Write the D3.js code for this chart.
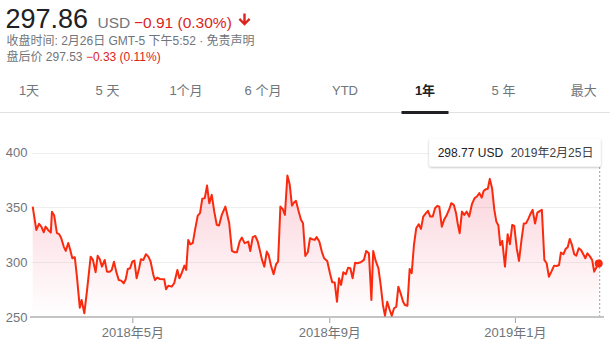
<!DOCTYPE html>
<html>
<head>
<meta charset="utf-8">
<script src="https://cdn.jsdelivr.net/npm/d3@7"></script>
<style>
  html, body { margin: 0; padding: 0; background: #fff; }
  svg { display: block; font-family: "Liberation Sans", Arial, "Noto Sans CJK SC", sans-serif; }
</style>
</head>
<body>
<svg id="chart" width="610" height="350"></svg>
<script>
// ---------- data ----------
const headerPrice = "297.86";
const headerCurrency = "USD";
const headerChange = "\u22120.91 (0.30%)";
const closeInfo = "收盘时间: 2月26日 GMT-5 下午5:52 · 免责声明";
const afterLabel = "盘后价 297.53 ";
const afterChange = "\u22120.33 (0.11%)";
const tabLabels = ["1天", "5 天", "1个月", "6 个月", "YTD", "1年", "5 年", "最大"];
const activeTab = "1年";

// trading-session index (0 = 2018-02-26) and closing price
const sessions = [
0,1.6,2.8,3.8,4.9,5.7,6.8,8.0,8.5,9.5,
10.7,11.7,12.6,13.7,14.6,15.7,16.6,17.5,18.6,19.6,
20.8,21.6,22.8,24.1,25.6,26.6,27.8,28.7,29.6,30.6,
31.8,32.8,34.0,34.9,35.9,36.9,38.0,39.1,40.2,41.1,
42.0,43.0,44.0,44.9,45.9,47.0,47.8,48.9,50.0,51.1,
52.1,53.3,54.0,55.0,56.2,58.1,58.9,59.9,61.4,62.5,
63.9,64.8,65.8,67.0,67.8,68.7,69.6,70.7,71.7,72.9,
73.9,74.9,76.0,77.0,78.0,79.1,80.2,81.3,82.3,83.5,
85.1,86.8,88.0,89.2,90.2,91.4,92.4,93.6,94.3,95.2,
96.1,97.2,98.3,99.4,100.3,101.3,102.3,103.4,104.2,105.3,
106.4,107.5,108.4,109.4,110.4,111.4,112.5,113.5,114.5,115.4,
116.3,117.5,118.5,119.4,120.4,121.5,122.5,123.5,124.6,125.4,
126.6,127.7,128.7,130.1,131.3,132.3,133.4,134.4,135.3,136.2,
137.2,138.3,139.3,140.3,141.3,142.4,143.4,144.9,146.3,147.3,
148.5,149.6,150.4,151.5,152.7,153.7,154.7,155.6,156.6,157.7,
158.6,159.6,160.6,161.5,162.5,163.6,164.4,165.5,166.5,167.4,
168.4,169.4,170.5,171.5,172.5,173.7,174.6,175.6,176.7,177.7,
178.7,179.6,180.7,181.7,182.9,184.0,184.9,186.0,187.0,187.7,
188.6,189.6,190.6,191.7,192.8,194.0,195.2,196.2,197.3,198.3,
199.2,200.2,201.0,201.9,202.9,203.9,204.8,205.7,206.5,207.4,
208.6,209.8,210.8,211.8,212.7,213.8,214.8,216.0,216.9,217.9,
218.9,220.0,220.8,221.9,222.9,224.1,224.9,226.0,227.0,228.0,
229.1,230.3,231.4,232.5,233.3,234.4,235.4,236.3,237.2,238.2,
239.2,240.1,241.2,242.2,243.2,244.1,245.0,246.2,247.1,248.0,
248.9,250];
const prices = [
350.8,329.5,335,332.5,327.4,332.5,329.5,327,346.2,342.6,
326.5,325.6,322,314.3,310.3,317.6,311.2,303.6,304.6,285.4,
258.5,265.5,253.4,276.2,305.1,302.1,290.9,306,303,296,
302.1,291.4,291.4,293,300.5,291.4,283.8,283.2,280.8,284.5,
293.9,294.5,300.5,301.5,285.4,294.5,302.7,302.1,307.3,305.1,
300.5,288.4,283.8,286,284.7,284.5,275.3,278.6,277.7,280.8,
293,285.4,290,296.9,293,320.4,316.4,317.4,329.5,342.6,
344.8,357.9,358.5,370,353.9,361.5,346.2,334.1,333.5,343.2,
350.8,335.6,310.3,309.1,309.1,318.9,322.5,317.4,317.9,318.9,
310.3,322.9,324,318.9,311.2,302.1,296,309.7,306.7,296.6,
289,298.2,300.5,350.8,348.7,343.2,379.1,371.3,351.7,354.5,
356,346.2,338.7,335.6,305.8,309.1,322,321,320.4,322.9,
318.9,309.7,303.6,301.2,290,281.7,281.4,264,285.4,279.3,
290.9,289,295,294.5,285.4,299.6,299.1,300,302.1,310.3,
308.2,265.5,310.3,301.2,294.5,279.3,261,251.2,264,256.4,
251.2,258,259.4,277.7,271.7,264,261,260.3,293.9,290,
315.8,331,334.7,330.4,341.7,344.8,346.9,341.7,341.7,349.3,
351.5,350.8,332.5,338.7,343.2,348.4,353.9,352.4,344.8,335.6,
326.5,346.2,343.2,346.2,341.7,353,358.5,360,363.1,359,
365.2,366.7,367,376.1,367.6,347.8,337.1,333.5,315.8,319.5,
296,325.6,316.5,334.1,333.2,312.8,301.2,322,335.3,335.6,
339.6,344.8,347.8,335.3,345.3,346.9,347.8,302.1,299.1,286.8,
291.4,296.9,296.6,297.5,308.8,307.3,312.2,313.7,321.3,315.8,
307.3,306,312.8,311.2,307.3,303.6,308.2,305.1,302.1,291.4,
295,298.77];
const yTicks = [250, 300, 350, 400];
const xTickSessions = [44, 131, 213];
const xTickLabels = ["2018年5月", "2018年9月", "2019年1月"];
const tooltipPrice = "298.77 USD";
const tooltipDate = "2019年2月25日";

// ---------- layout ----------
const RED_TEXT = "#d9251d";
const RED_LINE = "#fa2a0e";
const GREY = "#70757a";
const DARK = "#202124";

const svg = d3.select("#chart");
const defs = svg.append("defs");

// header
const h1 = svg.append("text").attr("y", 27.7);
h1.append("tspan").attr("x", 5.5).attr("font-size", 27).attr("fill", DARK).text(headerPrice);
h1.append("tspan").attr("x", 97.5).attr("font-size", 15.5).attr("fill", GREY).text(headerCurrency);
h1.append("tspan").attr("x", 134).attr("font-size", 15.5).attr("fill", RED_TEXT).text(headerChange);
// down arrow
svg.append("path")
  .attr("d", "M243.3,13.5 H245.7 V21.2 L248.8,18.1 L250.4,19.8 L244.5,25.8 L238.6,19.8 L240.2,18.1 L243.3,21.2 Z")
  .attr("fill", RED_TEXT);

svg.append("text").attr("x", 6.5).attr("y", 45).attr("font-size", 12).attr("fill", GREY).text(closeInfo);
const l3 = svg.append("text").attr("x", 6.5).attr("y", 61).attr("font-size", 12);
l3.append("tspan").attr("fill", GREY).text(afterLabel);
l3.append("tspan").attr("fill", RED_TEXT).text(afterChange);

// tabs
const tabCenters = [29, 107.5, 186, 263, 345, 425, 503.5, 583.7];
svg.append("g").selectAll("text").data(tabLabels).join("text")
  .attr("x", (d, i) => tabCenters[i])
  .attr("y", 95)
  .attr("text-anchor", "middle")
  .attr("font-size", 13)
  .attr("font-weight", d => d === activeTab ? "bold" : "normal")
  .attr("fill", d => d === activeTab ? DARK : GREY)
  .text(d => d);
svg.append("line").attr("x1", 0).attr("x2", 610).attr("y1", 112.5).attr("y2", 112.5)
  .attr("stroke", "#dfe1e5").attr("stroke-width", 1);
const activeIdx = tabLabels.indexOf(activeTab);
svg.append("rect").attr("x", tabCenters[activeIdx] - 23.5).attr("y", 111).attr("width", 47).attr("height", 3)
  .attr("fill", DARK);

// chart scales
const x = d3.scaleLinear().domain([0, 250]).range([32.7, 598.7]);
const y = d3.scaleLinear().domain([250, 400]).range([317, 152.7]);
const data = sessions.map((s, i) => ({ s, v: prices[i] }));

// gridlines
svg.append("g").selectAll("line").data(yTicks.filter(t => t !== 250)).join("line")
  .attr("x1", 31.7).attr("x2", 601)
  .attr("y1", d => Math.round(y(d)) + 0.5).attr("y2", d => Math.round(y(d)) + 0.5)
  .attr("stroke", "#efefef").attr("stroke-width", 1);

// y axis labels
const yAxis = svg.append("g").attr("transform", "translate(27.5,0)")
  .call(d3.axisLeft(y).tickValues(yTicks).tickSize(0).tickPadding(0).tickFormat(d3.format("d")));
yAxis.select(".domain").remove();
yAxis.selectAll("text").attr("font-size", 13).attr("fill", GREY)
  .attr("font-family", "\"Liberation Sans\", Arial, sans-serif");

// area gradient
const grad = defs.append("linearGradient").attr("id", "fillGrad")
  .attr("gradientUnits", "userSpaceOnUse")
  .attr("x1", 0).attr("x2", 0).attr("y1", y(382)).attr("y2", y(250));
grad.append("stop").attr("offset", 0).attr("stop-color", "rgb(236,64,100)").attr("stop-opacity", 0.24);
grad.append("stop").attr("offset", 1).attr("stop-color", "rgb(236,64,100)").attr("stop-opacity", 0);

svg.append("path").datum(data)
  .attr("d", d3.area().x(d => x(d.s)).y0(y(250)).y1(d => y(d.v)))
  .attr("fill", "url(#fillGrad)");

// x axis
const xAxis = svg.append("g").attr("transform", `translate(0,${y(250)})`)
  .call(d3.axisBottom(x).tickValues(xTickSessions).tickFormat((d, i) => xTickLabels[i]).tickSize(6).tickPadding(5));
xAxis.select(".domain").remove();
xAxis.selectAll(".tick line").attr("stroke", "#a0a0a0");
xAxis.selectAll("text").attr("font-size", 13).attr("fill", GREY)
  .attr("font-family", "\"Liberation Sans\", Arial, \"Noto Sans CJK SC\", sans-serif");
svg.append("line").attr("x1", 30).attr("x2", 604).attr("y1", y(250)).attr("y2", y(250))
  .attr("stroke", "#c4c4c4").attr("stroke-width", 2);

// line
svg.append("path").datum(data)
  .attr("d", d3.line().x(d => x(d.s)).y(d => y(d.v)))
  .attr("fill", "none").attr("stroke", RED_LINE).attr("stroke-width", 2)
  .attr("stroke-linejoin", "round");

// hover marker
const last = data[data.length - 1];
const hx = x(last.s);
svg.append("line").attr("x1", hx + 1).attr("x2", hx + 1).attr("y1", 167).attr("y2", y(250) - 1)
  .attr("stroke", "#9aa0a6").attr("stroke-width", 1).attr("stroke-dasharray", "2,2");
svg.append("circle").attr("cx", hx).attr("cy", y(last.v)).attr("r", 4).attr("fill", RED_LINE);

// tooltip
const shadow = defs.append("filter").attr("id", "shadow").attr("x", "-10%").attr("y", "-30%").attr("width", "120%").attr("height", "170%");
shadow.append("feDropShadow").attr("dx", 0).attr("dy", 1).attr("stdDeviation", 1.3).attr("flood-color", "#000").attr("flood-opacity", 0.28);
const tipRight = hx + 2;
svg.append("rect").attr("x", tipRight - 171.5).attr("y", 138.5).attr("width", 171.5).attr("height", 28)
  .attr("rx", 2).attr("fill", "#fff").attr("filter", "url(#shadow)");
svg.append("text").attr("x", tipRight - 163).attr("y", 157).attr("font-size", 12).attr("fill", DARK).text(tooltipPrice);
svg.append("text").attr("x", tipRight - 90).attr("y", 157).attr("font-size", 12).attr("fill", "#3c4043").text(tooltipDate);
</script>
</body>
</html>
